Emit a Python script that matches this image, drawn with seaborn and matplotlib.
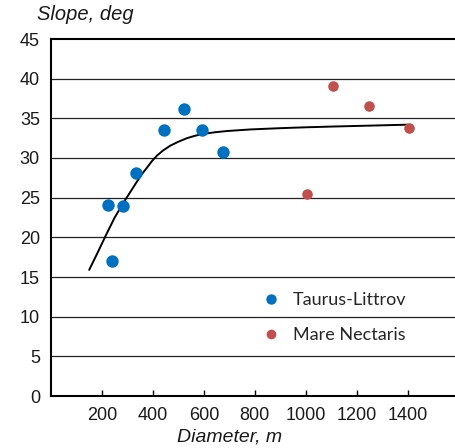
import matplotlib
matplotlib.use("Agg")
import matplotlib.pyplot as plt
from matplotlib.lines import Line2D
import seaborn as sns
import pandas as pd

# Data
taurus_diam = [223, 239, 282, 335, 442, 524, 593, 674]
taurus_slope = [24.1, 17.0, 23.9, 28.1, 33.5, 36.2, 33.5, 30.8]
nectaris_diam = [1004, 1106, 1248, 1405]
nectaris_slope = [25.4, 39.1, 36.6, 33.8]

# Fitted curve, points
curve_diam = [150, 185, 213, 250, 291, 337, 360, 376, 396, 416, 440, 468, 500, 534, 565, 599,
              645, 691, 783, 900, 1000, 1110, 1250, 1400]
curve_slope = [15.9, 18.2, 20.1, 22.5, 24.7, 27.0, 28.1, 28.75, 29.6, 30.3, 30.95, 31.55, 32.05,
               32.5, 32.8, 33.05, 33.25, 33.4, 33.6, 33.76, 33.87, 33.97, 34.08, 34.2]

xticks = [200, 400, 600, 800, 1000, 1200, 1400]
yticks = [0, 5, 10, 15, 20, 25, 30, 35, 40, 45]

blue = "#0070C0"
red = "#C0504D"

sns.set_theme(style="white")
plt.rcParams["font.family"] = ["Liberation Sans", "DejaVu Sans"]

fig = plt.figure(figsize=(4.55, 4.48), dpi=100)
ax = fig.add_axes([51 / 455, 52 / 448, (455 - 51) / 455 + 0.01, (396 - 39) / 448])

ax.set_xlim(0, 1586 * (1 + 0.01 * 455 / 404))
ax.set_ylim(0, 45)

for y in yticks[1:-1]:
    ax.axhline(y, color="#222222", lw=0.9, zorder=0)

df_t = pd.DataFrame({"Diameter": taurus_diam, "Slope": taurus_slope})
df_n = pd.DataFrame({"Diameter": nectaris_diam, "Slope": nectaris_slope})
df_c = pd.DataFrame({"Diameter": curve_diam, "Slope": curve_slope})

sns.scatterplot(data=df_t, x="Diameter", y="Slope", color=blue, s=80, linewidth=0, ax=ax,
                zorder=3, legend=False)
sns.scatterplot(data=df_n, x="Diameter", y="Slope", color=red, s=58, linewidth=0, ax=ax,
                zorder=3, legend=False)
sns.lineplot(data=df_c, x="Diameter", y="Slope", color="black", lw=1.4, ax=ax, zorder=2,
             legend=False)

ax.set_xticks(xticks)
ax.set_yticks(yticks)
ax.tick_params(axis="x", direction="in", length=4, width=1, color="black", labelsize=13, pad=8,
               bottom=True)
ax.tick_params(axis="y", length=0, labelsize=13, pad=8)
for lab in ax.get_xticklabels() + ax.get_yticklabels():
    lab.set_color("#1a1a1a")

for side in ["left", "bottom", "top"]:
    ax.spines[side].set_color("black")
    ax.spines[side].set_linewidth(1.5)
ax.spines["right"].set_visible(False)

ax.set_xlabel("")
ax.set_ylabel("")
fig.text(37 / 455, 1 - 14 / 448, "Slope, deg", fontsize=14.5, style="italic", ha="left",
         va="center", color="#1a1a1a")
fig.text(230 / 455, 1 - 437 / 448, "Diameter, m", fontsize=14, style="italic", ha="center",
         va="center", color="#1a1a1a")

handles = [
    Line2D([], [], marker="o", ls="", color=blue, markersize=7.5, markeredgewidth=0),
    Line2D([], [], marker="o", ls="", color=red, markersize=7, markeredgewidth=0),
]
leg = ax.legend(handles, ["Taurus-Littrov", "Mare Nectaris"], loc="upper left",
                bbox_to_anchor=((258 - 51) / 404, (396 - 292) / 357),
                frameon=False, prop={"family": ["Lato", "DejaVu Sans"], "size": 13},
                handletextpad=0.6, handlelength=1.2, labelspacing=1.05, borderaxespad=0,
                borderpad=0)

fig.savefig("out.png", dpi=100)
